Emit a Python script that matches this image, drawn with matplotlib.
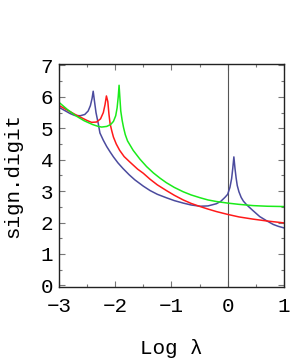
import numpy as np
import matplotlib
matplotlib.use("Agg")
import matplotlib.pyplot as plt

plt.rcParams['font.family'] = ['Liberation Mono', 'DejaVu Sans']

# blue curve
blue_x = [-3.0, -2.9, -2.8, -2.72, -2.62, -2.54, -2.48, -2.44, -2.41, -2.39, -2.37, -2.34,
          -2.30, -2.27, -2.21, -2.15, -2.09, -2.03, -1.95, -1.86, -1.75, -1.65, -1.5, -1.38,
          -1.25, -1.09, -0.95, -0.79, -0.65, -0.49, -0.35, -0.2, -0.12, -0.05, 0.0, 0.04,
          0.07, 0.09, 0.11, 0.13, 0.15, 0.17, 0.20, 0.24, 0.28, 0.34, 0.45, 0.57, 0.69,
          0.81, 0.9, 1.0]
blue_y = [5.67, 5.57, 5.47, 5.41, 5.40, 5.44, 5.55, 5.72, 5.95, 6.18, 5.90, 5.50,
          5.15, 4.85, 4.62, 4.42, 4.25, 4.09, 3.90, 3.72, 3.52, 3.36, 3.16, 3.02,
          2.90, 2.79, 2.70, 2.62, 2.56, 2.52, 2.53, 2.60, 2.68, 2.80, 2.90, 3.12,
          3.40, 3.72, 4.09, 3.72, 3.42, 3.18, 2.98, 2.80, 2.68, 2.56, 2.38, 2.19, 2.06,
          1.94, 1.88, 1.83]

# red curve
red_x = [-3.0, -2.85, -2.7, -2.6, -2.5, -2.42, -2.33, -2.26, -2.21, -2.18, -2.155, -2.13,
         -2.11, -2.09, -2.06, -2.03, -1.98, -1.92, -1.84, -1.74, -1.6, -1.5, -1.38, -1.25,
         -1.09, -0.95, -0.79, -0.65, -0.49, -0.35, -0.2, 0.0, 0.2, 0.45, 0.7, 1.0]
red_y = [5.73, 5.58, 5.43, 5.34, 5.25, 5.19, 5.20, 5.30, 5.50, 5.75, 6.03, 5.85,
         5.45, 5.15, 4.92, 4.72, 4.50, 4.30, 4.10, 3.93, 3.70, 3.57, 3.38, 3.20,
         3.02, 2.87, 2.72, 2.61, 2.51, 2.43, 2.35, 2.26, 2.18, 2.11, 2.05, 1.99]

# green curve
green_x = [-3.0, -2.85, -2.7, -2.55, -2.4, -2.3, -2.24, -2.15, -2.08, -2.03, -1.99, -1.965,
           -1.945, -1.93, -1.915, -1.90, -1.875, -1.85, -1.82, -1.78, -1.68, -1.56, -1.44,
           -1.32, -1.2, -1.09, -0.95, -0.79, -0.65, -0.49, -0.35, -0.2, 0.0, 0.2, 0.45,
           0.7, 1.0]
green_y = [5.83, 5.60, 5.40, 5.24, 5.12, 5.06, 5.04, 5.06, 5.12, 5.22, 5.40, 5.65,
           6.00, 6.37, 5.95, 5.55, 5.25, 5.02, 4.80, 4.60, 4.30, 4.02, 3.78,
           3.58, 3.41, 3.27, 3.12, 2.98, 2.88, 2.79, 2.72, 2.67, 2.62, 2.58, 2.54,
           2.52, 2.51]

fig = plt.figure(figsize=(3.05, 3.59), dpi=100)
ax = fig.add_axes([0.193, 0.2006, 0.738, 0.6214])

ax.axvline(0, color='#555555', lw=0.8)
ax.plot(blue_x, blue_y, color='#4b4b9e', lw=1.1)
ax.plot(red_x, red_y, color='#ff1a1a', lw=1.1)
ax.plot(green_x, green_y, color='#1aeb1a', lw=1.1)

ax.set_xlim(-3, 1)
ax.set_ylim(-0.05, 7.05)
ax.set_xticks([-3, -2, -1, 0, 1])
ax.set_xticklabels(['\u22123', '\u22122', '\u22121', '0', '1'])
ax.set_yticks(range(8))
ax.set_xticks(np.arange(-2.5, 1, 1.0), minor=True)
ax.set_yticks(np.arange(0.5, 7, 1.0), minor=True)
ax.tick_params(which='both', direction='in', top=True, right=True, labelsize=15,
               color='#777777', width=0.8)
ax.tick_params(which='major', length=4)
ax.tick_params(axis='x', pad=7)
ax.tick_params(axis='y', pad=4)
ax.tick_params(which='minor', length=2.5)
for s in ax.spines.values():
    s.set_linewidth(1.0)
    s.set_color('#222222')

ax.set_xlabel('Log \u03bb', fontsize=15, labelpad=17)
ax.set_ylabel('sign.digit', fontsize=15, labelpad=13)

fig.savefig('out.png', dpi=100)
